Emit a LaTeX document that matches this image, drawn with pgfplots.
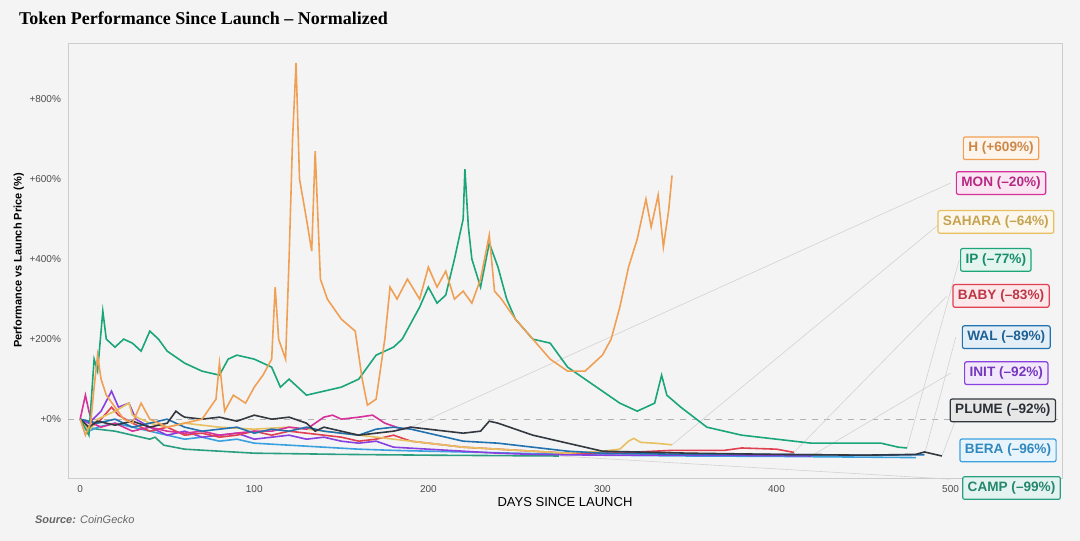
\documentclass[border=0pt]{standalone}
\usepackage{pgfplots}
\pgfplotsset{compat=1.18}
\usepackage{fontspec}
\setmainfont{Liberation Sans}
\newfontfamily\titlefont{Liberation Serif}
\usetikzlibrary{backgrounds}
\definecolor{cH}{HTML}{F0A055}
\definecolor{cMON}{HTML}{D6309A}
\definecolor{cSAH}{HTML}{E8C060}
\definecolor{cIP}{HTML}{1BA57A}
\definecolor{cBABY}{HTML}{E04050}
\definecolor{cWAL}{HTML}{2272B0}
\definecolor{cINIT}{HTML}{8A40E0}
\definecolor{cPLUME}{HTML}{333840}
\definecolor{cBERA}{HTML}{3AA0E0}
\definecolor{cCAMP}{HTML}{2A9E80}
\definecolor{bg}{HTML}{F4F4F4}
\newcommand{\lab}[4]{\node[draw=#1,fill=#1!12,line width=0.6pt,rounded corners=1pt,text=#1!85!black,font=\fontsize{6.8}{8}\selectfont\bfseries,inner sep=2.5pt] at (axis cs:#2,#3) {#4};}
\begin{document}
\begin{tikzpicture}
\begin{axis}[
  scale only axis, width=497pt, height=217.5pt,
  xmin=-7, xmax=564, ymin=-147, ymax=940,
  clip=false,
  axis line style={gray!40},
  tick style={draw=none},
  xtick={0,100,200,300,400,500},
  ytick={0,200,400,600,800},
  yticklabels={+0\%,+200\%,+400\%,+600\%,+800\%},
  ticklabel style={font=\fontsize{5}{6}\selectfont, text=black!70},
  /pgf/number format/assume math mode=true,
  xlabel={DAYS SINCE LAUNCH},
  ylabel={\bfseries Performance vs Launch Price (\%)},
  xlabel style={font=\fontsize{6.5}{7}\selectfont, yshift=4pt},
  ylabel style={font=\fontsize{5.5}{6}\selectfont, yshift=-4pt},
  axis background/.style={fill=bg},
  every axis plot/.append style={line width=0.8pt},
]
\draw[gray!60,dashed,line width=0.4pt] (axis cs:-7,0) -- (axis cs:564,0);
\begin{scope}[gray!35,line width=0.3pt]
\draw (axis cs:190,-20) -- (axis cs:500,590);
\draw (axis cs:340,-64) -- (axis cs:495,493);
\draw (axis cs:410,-83) -- (axis cs:498,308);
\draw (axis cs:420,-92) -- (axis cs:500,115);
\draw (axis cs:485,-89) -- (axis cs:503,205);
\draw (axis cs:495,-92) -- (axis cs:505,22);
\draw (axis cs:275,-92) -- (axis cs:500,-150);
\draw (axis cs:475,-72) -- (axis cs:505,398);
\end{scope}
\addplot[cCAMP] coordinates {(0,0)(3,-20)(10,-25)(20,-30)(30,-40)(40,-50)(43,-45)(48,-65)(60,-75)(80,-80)(100,-85)(150,-88)(200,-90)(275,-92)};
\addplot[cBERA] coordinates {(0,0)(5,-30)(10,-20)(20,-10)(30,-20)(40,-30)(50,-40)(60,-50)(70,-45)(80,-55)(90,-50)(100,-60)(120,-65)(140,-70)(160,-75)(180,-78)(200,-80)(250,-85)(300,-90)(350,-92)(400,-93)(480,-96)};
\addplot[cINIT] coordinates {(0,0)(5,-10)(12,20)(18,70)(22,30)(28,40)(32,0)(40,-20)(50,-40)(60,-30)(70,-45)(80,-40)(90,-35)(100,-50)(110,-45)(120,-40)(130,-50)(140,-45)(150,-55)(160,-60)(170,-55)(180,-70)(200,-75)(220,-80)(240,-85)(260,-88)(300,-90)(350,-90)(400,-91)(420,-92)};
\addplot[cBABY] coordinates {(0,0)(5,-20)(10,-10)(18,30)(22,10)(30,-10)(40,-30)(50,-20)(60,-40)(70,-35)(80,-45)(90,-40)(100,-30)(110,-40)(120,-30)(130,-35)(140,-40)(150,-45)(160,-55)(170,-50)(180,-40)(190,-55)(200,-60)(220,-70)(240,-75)(260,-80)(280,-85)(300,-85)(320,-82)(340,-78)(370,-78)(380,-72)(400,-75)(410,-83)};
\addplot[cSAH] coordinates {(0,0)(5,-30)(10,0)(20,20)(28,40)(30,10)(40,-10)(50,-20)(60,-10)(80,-20)(100,-25)(120,-20)(140,-30)(160,-40)(180,-50)(200,-60)(220,-70)(240,-75)(260,-80)(280,-85)(300,-80)(310,-75)(315,-55)(318,-48)(322,-58)(330,-60)(340,-64)};
\addplot[cMON] coordinates {(0,0)(2,40)(3,60)(5,20)(7,-10)(12,-20)(20,-10)(30,-30)(40,-20)(50,-30)(60,-35)(70,-30)(80,-40)(90,-35)(100,-30)(110,-30)(120,-20)(130,-25)(140,5)(145,10)(150,0)(160,5)(168,10)(175,-10)(185,-25)(190,-20)};
\addplot[cWAL] coordinates {(0,0)(10,-10)(20,0)(30,-20)(40,-10)(50,0)(60,-20)(70,-30)(80,-25)(90,-20)(100,-35)(110,-25)(120,-30)(130,-20)(140,-30)(150,-35)(160,-40)(170,-25)(180,-20)(190,-25)(200,-35)(220,-55)(240,-60)(260,-70)(280,-80)(300,-85)(350,-88)(400,-88)(450,-90)(485,-89)};
\addplot[cPLUME] coordinates {(0,0)(5,-20)(10,-5)(20,-15)(30,-5)(40,-20)(50,-10)(55,20)(58,10)(60,5)(70,0)(80,5)(90,-5)(100,10)(110,0)(120,5)(130,-10)(135,-30)(140,-20)(150,-30)(160,-40)(170,-35)(180,-30)(190,-20)(200,-25)(210,-30)(220,-35)(230,-30)(235,-5)(240,-10)(250,-25)(260,-40)(280,-60)(300,-80)(350,-85)(400,-88)(450,-90)(480,-88)(485,-82)(495,-92)};
\addplot[cIP] coordinates {(0,0)(5,-40)(8,150)(10,120)(13,270)(15,200)(20,180)(25,200)(30,190)(35,170)(40,220)(45,200)(50,170)(60,140)(70,120)(80,110)(85,150)(90,160)(100,150)(105,140)(110,130)(115,80)(120,100)(130,60)(140,70)(150,80)(160,100)(165,130)(170,160)(180,180)(185,200)(190,240)(195,280)(200,330)(205,290)(210,310)(215,400)(220,500)(221,625)(223,480)(225,400)(230,330)(235,440)(240,380)(245,300)(250,250)(260,200)(270,190)(280,130)(290,100)(300,70)(310,40)(320,20)(330,40)(334,110)(337,60)(345,30)(360,-20)(380,-40)(400,-50)(420,-60)(440,-60)(460,-60)(470,-70)(475,-72)};
\addplot[cH] coordinates {(0,0)(3,-40)(6,-10)(8,80)(10,160)(12,100)(15,60)(20,30)(25,0)(30,-10)(35,40)(40,0)(50,-20)(60,-10)(70,0)(78,50)(80,140)(83,20)(88,60)(95,40)(100,80)(105,110)(110,150)(112,330)(114,200)(118,150)(120,400)(122,700)(124,890)(126,600)(130,500)(133,420)(135,670)(138,350)(142,300)(150,250)(158,220)(162,100)(165,35)(170,50)(175,200)(178,330)(182,300)(188,350)(195,300)(200,380)(205,330)(210,370)(215,300)(220,320)(225,290)(230,350)(235,460)(238,320)(242,300)(250,250)(260,200)(270,150)(280,120)(290,120)(300,160)(305,200)(310,280)(315,380)(320,450)(325,550)(328,480)(332,560)(335,430)(338,520)(340,609)};
\lab{cH}{529}{677}{H (+609\%)}
\lab{cMON}{529}{590}{MON (–20\%)}
\lab{cSAH}{526}{493}{SAHARA (–64\%)}
\lab{cIP}{526}{398}{IP (–77\%)}
\lab{cBABY}{529}{308}{BABY (–83\%)}
\lab{cWAL}{532}{205}{WAL (–89\%)}
\lab{cINIT}{532}{115}{INIT (–92\%)}
\lab{cPLUME}{530}{22}{PLUME (–92\%)}
\lab{cBERA}{533}{-78}{BERA (–96\%)}
\lab{cCAMP}{535}{-172}{CAMP (–99\%)}
\end{axis}
\begin{scope}[on background layer]
\fill[bg] ([shift={(-34pt,-31.5pt)}]current axis.south west) rectangle ([shift={(9pt,21.5pt)}]current axis.north east);
\end{scope}
\node[anchor=north west,font=\titlefont\bfseries\fontsize{9}{10}\selectfont] at ([shift={(-28pt,19pt)}]current axis.north west) {Token Performance Since Launch – Normalized};
\node[anchor=west,font=\fontsize{5.5}{6}\selectfont,text=black!60] at ([shift={(-20pt,-21pt)}]current axis.south west) {\textbf{\textit{Source:}} \textit{CoinGecko}};
\pgfresetboundingbox
\path[use as bounding box] ([shift={(-34pt,-31.5pt)}]current axis.south west) rectangle ([shift={(9pt,21.5pt)}]current axis.north east);
\end{tikzpicture}
\end{document}
